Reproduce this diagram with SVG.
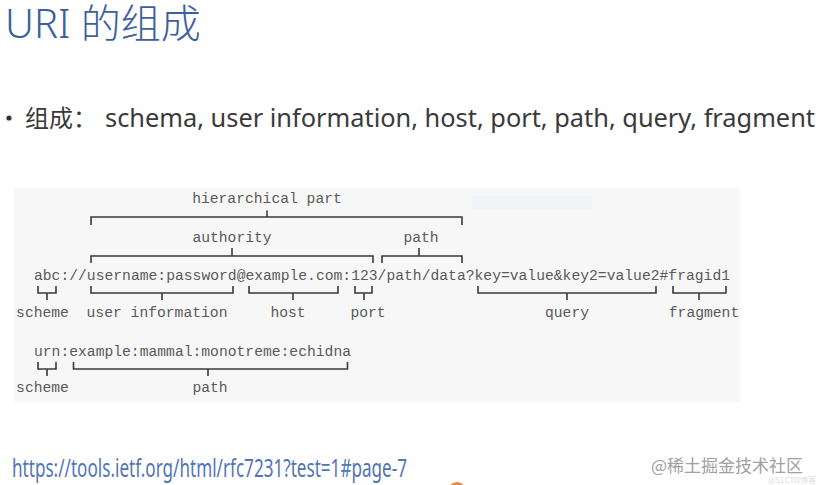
<svg xmlns="http://www.w3.org/2000/svg" width="820" height="485" viewBox="0 0 820 485">
<style>
.mono{font-family:"Liberation Mono","DejaVu Sans Mono",monospace;font-size:14.68px;fill:#5a5a5a}
.lbl{text-anchor:middle}
.br{fill:none;stroke:#3a3a3a;stroke-width:1.6}
.title{font-family:"Noto Sans","Noto Sans CJK SC",sans-serif;font-weight:300;fill:#3d5f9e}
.body{font-family:"Noto Sans","Noto Sans CJK SC",sans-serif;fill:#3a3a3a}
</style>
<rect width="820" height="485" fill="#ffffff"/>
<g id="title"><text class="title" x="5" y="38" font-size="40">URI 的组成</text></g>
<g id="bullet">
<circle cx="9" cy="118" r="2.6" fill="#333"/>
<text class="body" x="25" y="127" font-size="24" font-family="Noto Sans CJK SC, sans-serif">组成：</text>
<text class="body" x="105" y="127" font-size="25" textLength="710" lengthAdjust="spacingAndGlyphs">schema, user information, host, port, path, query, fragment</text>
</g>
<g id="panel">
<rect x="14" y="188" width="726" height="214" fill="#f7f7f7"/>
<rect x="472" y="196" width="120" height="13" fill="#f0f3f7"/>
</g>
<g id="uri1">
<text class="mono" x="34" y="280" textLength="696" lengthAdjust="spacingAndGlyphs">abc://username:password@example.com:123/path/data?key=value&amp;key2=value2#fragid1</text>
</g>
<g id="uri2">
<text class="mono" x="34" y="356" textLength="317" lengthAdjust="spacingAndGlyphs">urn:example:mammal:monotreme:echidna</text>
</g>
<g id="labels">
<text class="mono lbl" x="267" y="203">hierarchical part</text>
<text class="mono lbl" x="232" y="242">authority</text>
<text class="mono lbl" x="421" y="242">path</text>
<text class="mono lbl" x="42.5" y="317">scheme</text>
<text class="mono lbl" x="157" y="317">user information</text>
<text class="mono lbl" x="288" y="317">host</text>
<text class="mono lbl" x="368" y="317">port</text>
<text class="mono lbl" x="567" y="317">query</text>
<text class="mono lbl" x="704" y="317">fragment</text>
<text class="mono lbl" x="42.5" y="392">scheme</text>
<text class="mono lbl" x="210" y="392">path</text>
</g>
<g id="connectors">
<path class="br" d="M91 225V217H462V225M267 217V210.5"/>
<path class="br" d="M91 263V256H373V263M232 256V248"/>
<path class="br" d="M382 263V256H462V263M419 256V248"/>
<path class="br" d="M38 286V293H56V286M47 293V300"/>
<path class="br" d="M91 286V293H233V286M162 293V300"/>
<path class="br" d="M249 286V293H338V286M293 293V300"/>
<path class="br" d="M355 286V293H372V286M364 293V300"/>
<path class="br" d="M478 286V293H656V286M567 293V300"/>
<path class="br" d="M673 286V293H726V286M699 293V300"/>
<path class="br" d="M38 362V369H56V362M47 369V376"/>
<path class="br" d="M73.5 362V369H347.5V362M208 369V376"/>
</g>
<g id="link">
<text x="12" y="477" font-family="Noto Sans, sans-serif" font-size="26" fill="#5075b8" textLength="395" lengthAdjust="spacingAndGlyphs">https://tools.ietf.org/html/rfc7231?test=1#page-7</text>
</g>
<circle cx="457" cy="491" r="9" fill="#f0883a"/>
<g id="watermark">
<text x="651" y="472" font-family="Noto Sans CJK SC, sans-serif" font-size="17" fill="#a0a0a0" textLength="152" lengthAdjust="spacingAndGlyphs">@稀土掘金技术社区</text>
<text x="768" y="483" font-family="Noto Sans CJK SC, sans-serif" font-size="8" fill="#e0e0e0">@51CTO博客</text>
</g>
</svg>
